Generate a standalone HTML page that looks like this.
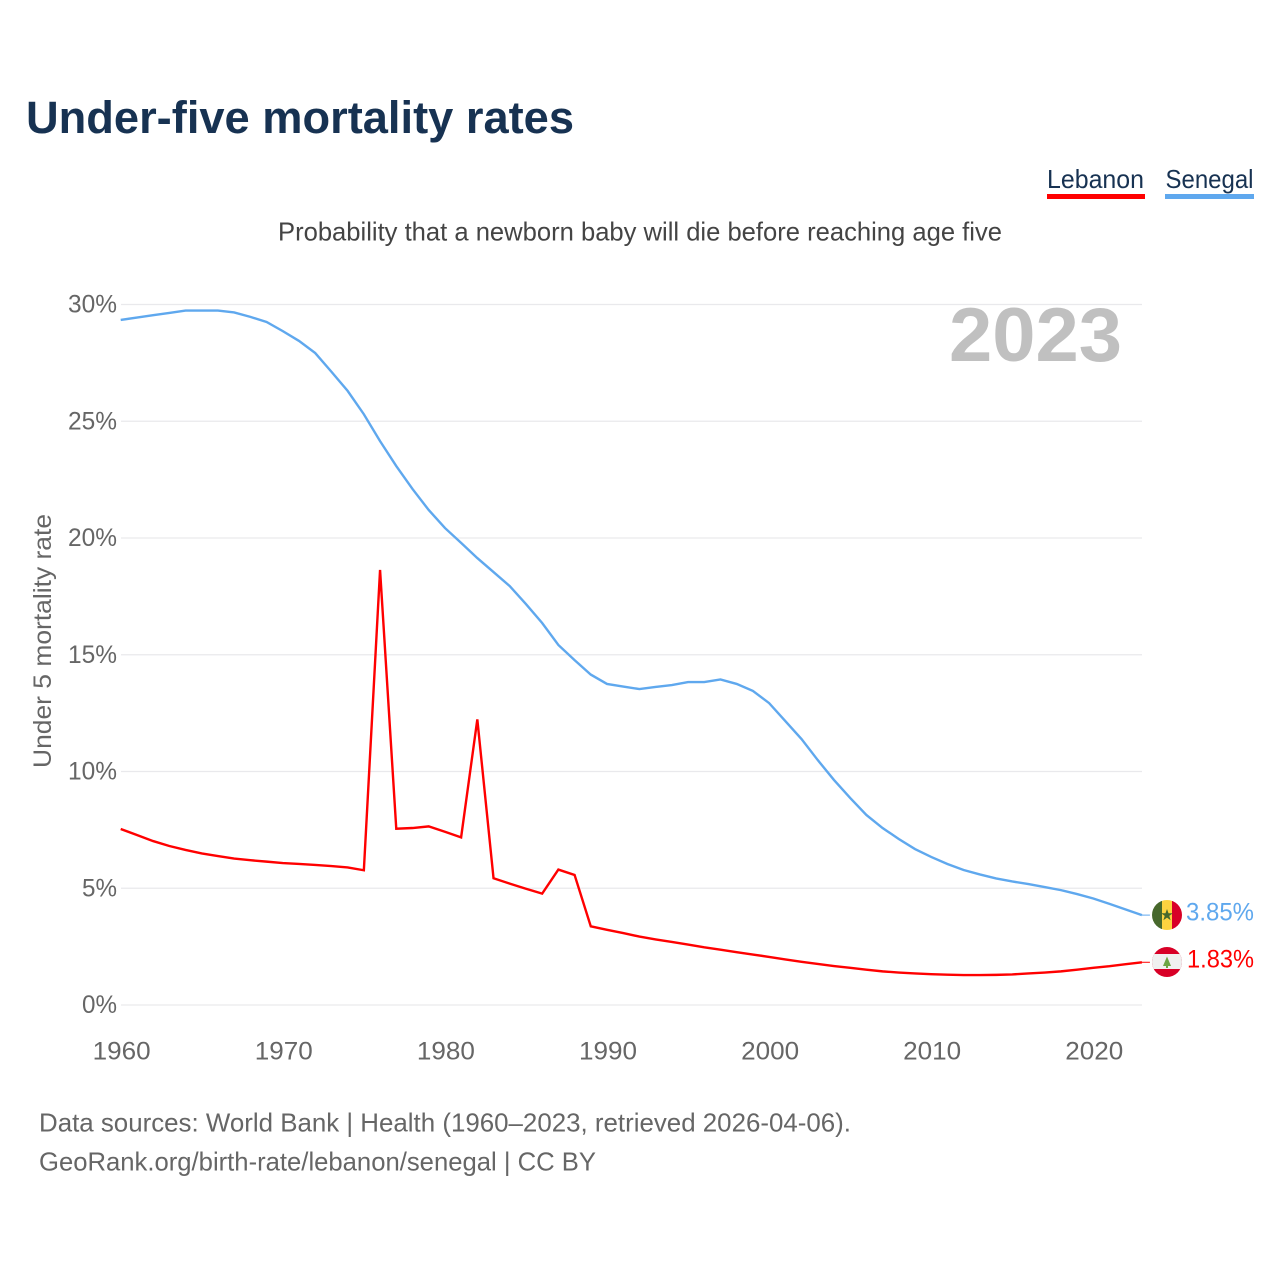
<!DOCTYPE html>
<html lang="en">
<head>
<meta charset="utf-8">
<title>Under-five mortality rates</title>
<style>
html,body{margin:0;padding:0;background:#fff;width:1280px;height:1280px;overflow:hidden}
svg{display:block}
text{font-family:"Liberation Sans",sans-serif}
</style>
</head>
<body>
<svg id="chart" width="1280" height="1280" viewBox="0 0 1280 1280" xmlns="http://www.w3.org/2000/svg">
  <text x="26" y="133" font-size="45" font-weight="700" fill="#173252" textLength="548" lengthAdjust="spacingAndGlyphs">Under-five mortality rates</text>

  <g>
    <text x="1047" y="188" font-size="26" fill="#173252" textLength="97" lengthAdjust="spacingAndGlyphs">Lebanon</text>
    <rect x="1047" y="194" width="98" height="5" fill="#ff0000"/>
  </g>
  <g>
    <text x="1165.500" y="188" font-size="26" fill="#173252" textLength="88" lengthAdjust="spacingAndGlyphs">Senegal</text>
    <rect x="1165" y="194" width="89" height="5" fill="#5fa8ee"/>
  </g>

  <text x="278" y="240.500" font-size="26" fill="#444444" textLength="724" lengthAdjust="spacingAndGlyphs">Probability that a newborn baby will die before reaching age five</text>

  <g id="grid"></g>
  <g id="yticks"></g>
  <g id="xticks"></g>

  <text transform="translate(51,641) rotate(-90)" text-anchor="middle" font-size="25" fill="#666666" textLength="254" lengthAdjust="spacingAndGlyphs">Under 5 mortality rate</text>

  <text x="949" y="361" font-size="76" font-weight="700" fill="#c0c0c0" textLength="173" lengthAdjust="spacingAndGlyphs">2023</text>

  <g id="series"></g>

  <g>
    <clipPath id="clipSn"><circle cx="1167" cy="915" r="15"/></clipPath>
    <g clip-path="url(#clipSn)">
      <rect x="1152" y="900" width="10" height="30" fill="#47682c"/>
      <rect x="1162" y="900" width="10" height="30" fill="#fdd340"/>
      <rect x="1172" y="900" width="10" height="30" fill="#d80027"/>
      <polygon points="1167,909 1168.500,913.200 1172.800,913.200 1169.300,915.900 1170.600,920.200 1167,917.600 1163.400,920.200 1164.700,915.900 1161.200,913.200 1165.500,913.200" fill="#47682c"/>
    </g>
  </g>
  <g>
    <clipPath id="clipLb"><circle cx="1167" cy="962" r="15"/></clipPath>
    <g clip-path="url(#clipLb)">
      <rect x="1152" y="947" width="30" height="30" fill="#d80027"/>
      <rect x="1152" y="954" width="30" height="15" fill="#f0f0f0"/>
      <polygon points="1167,956.500 1171,966 1163,966" fill="#6da544"/>
      <rect x="1166" y="965" width="2" height="3" fill="#6da544"/>
    </g>
  </g>

  <text id="value-senegal" x="1186" y="920.500" font-size="25" fill="#5fa8ee" textLength="68" lengthAdjust="spacingAndGlyphs">3.85%</text>
  <text id="value-lebanon" x="1187" y="967.500" font-size="25" fill="#ff0000" textLength="67" lengthAdjust="spacingAndGlyphs">1.83%</text>

  <text x="39" y="1131.500" font-size="26" fill="#666666" textLength="812" lengthAdjust="spacingAndGlyphs">Data sources: World Bank | Health (1960–2023, retrieved 2026-04-06).</text>
  <text x="39" y="1170.500" font-size="26" fill="#666666" textLength="557" lengthAdjust="spacingAndGlyphs">GeoRank.org/birth-rate/lebanon/senegal | CC BY</text>
</svg>
<script>
const years = [1960,1961,1962,1963,1964,1965,1966,1967,1968,1969,1970,1971,1972,1973,1974,1975,1976,1977,1978,1979,1980,1981,1982,1983,1984,1985,1986,1987,1988,1989,1990,1991,1992,1993,1994,1995,1996,1997,1998,1999,2000,2001,2002,2003,2004,2005,2006,2007,2008,2009,2010,2011,2012,2013,2014,2015,2016,2017,2018,2019,2020,2021,2022,2023];
const lebanonValues = [7.54,7.28,7.02,6.81,6.64,6.49,6.38,6.27,6.20,6.14,6.08,6.04,6.00,5.95,5.89,5.77,18.63,7.55,7.58,7.65,7.42,7.18,12.23,5.43,5.20,4.98,4.77,5.80,5.57,3.37,3.22,3.08,2.93,2.81,2.70,2.59,2.47,2.37,2.26,2.16,2.06,1.95,1.85,1.76,1.67,1.59,1.51,1.44,1.39,1.35,1.32,1.30,1.28,1.28,1.29,1.31,1.35,1.39,1.44,1.51,1.59,1.66,1.75,1.83];
const senegalValues = [29.34,29.44,29.54,29.64,29.74,29.74,29.74,29.66,29.47,29.25,28.86,28.44,27.92,27.12,26.30,25.30,24.15,23.08,22.10,21.20,20.43,19.79,19.14,18.54,17.94,17.17,16.36,15.42,14.77,14.15,13.75,13.64,13.53,13.62,13.70,13.83,13.83,13.94,13.75,13.45,12.93,12.16,11.39,10.49,9.64,8.87,8.14,7.58,7.11,6.68,6.34,6.04,5.78,5.59,5.42,5.29,5.18,5.05,4.92,4.75,4.56,4.33,4.09,3.85];
const yTickValues = [0,5,10,15,20,25,30];
const yTickLabels = ["0%","5%","10%","15%","20%","25%","30%"];
const xTickValues = [1960,1970,1980,1990,2000,2010,2020];
const xTickLabels = ["1960","1970","1980","1990","2000","2010","2020"];

const NS = "http://www.w3.org/2000/svg";
function xScale(year){ return 120.7 + (year - 1960) * 16.21; }
function yScale(v){ return 1005 - v * 23.35; }

const gridG = document.getElementById("grid");
const yG = document.getElementById("yticks");
const xG = document.getElementById("xticks");
const seriesG = document.getElementById("series");

yTickValues.forEach(function(v, i){
  const line = document.createElementNS(NS, "line");
  
  
  line.setAttribute("x1", 121);
  line.setAttribute("x2", 1142);
  line.setAttribute("y1", yScale(v));
  line.setAttribute("y2", yScale(v));
  line.setAttribute("stroke", "#e9e9ec");
  line.setAttribute("stroke-width", "1.300");
  gridG.appendChild(line);

  const t = document.createElementNS(NS, "text");
  
  
  t.setAttribute("x", 117);
  t.setAttribute("y", yScale(v) + 8);
  t.setAttribute("text-anchor", "end");
  t.setAttribute("font-size", "25");
  t.setAttribute("fill", "#666666");
  t.setAttribute("textLength", yTickLabels[i].length === 2 ? 35 : 49);
  t.setAttribute("lengthAdjust", "spacingAndGlyphs");
  t.textContent = yTickLabels[i];
  yG.appendChild(t);
});

xTickValues.forEach(function(v, i){
  const t = document.createElementNS(NS, "text");
  
  
  t.setAttribute("x", xScale(v) + 1);
  t.setAttribute("y", 1059.5);
  t.setAttribute("text-anchor", "middle");
  t.setAttribute("font-size", "25");
  t.setAttribute("fill", "#666666");
  t.setAttribute("textLength", 58);
  t.setAttribute("lengthAdjust", "spacingAndGlyphs");
  t.textContent = xTickLabels[i];
  xG.appendChild(t);
});

function pathFrom(values){
  return values.map(function(v, i){
    return (i ? "L" : "M") + xScale(years[i]).toFixed(2) + " " + yScale(v).toFixed(2);
  }).join(" ");
}

const senegalLine = document.createElementNS(NS, "path");


senegalLine.setAttribute("d", pathFrom(senegalValues));
senegalLine.setAttribute("fill", "none");
senegalLine.setAttribute("stroke", "#5fa8ee");
senegalLine.setAttribute("stroke-width", "2.400");
senegalLine.setAttribute("stroke-linejoin", "miter");
seriesG.appendChild(senegalLine);

const lebanonLine = document.createElementNS(NS, "path");


lebanonLine.setAttribute("d", pathFrom(lebanonValues));
lebanonLine.setAttribute("fill", "none");
lebanonLine.setAttribute("stroke", "#ff0000");
lebanonLine.setAttribute("stroke-width", "2.400");
lebanonLine.setAttribute("stroke-linejoin", "miter");
seriesG.appendChild(lebanonLine);

const lastYearX = xScale(years[years.length - 1]);

const senegalLeader = document.createElementNS(NS, "line");


senegalLeader.setAttribute("x1", lastYearX);
senegalLeader.setAttribute("x2", lastYearX + 8);
senegalLeader.setAttribute("y1", yScale(senegalValues[senegalValues.length - 1]));
senegalLeader.setAttribute("y2", yScale(senegalValues[senegalValues.length - 1]));
senegalLeader.setAttribute("stroke", "#5fa8ee");
senegalLeader.setAttribute("stroke-width", "1");
seriesG.appendChild(senegalLeader);

const lebanonLeader = document.createElementNS(NS, "line");


lebanonLeader.setAttribute("x1", lastYearX);
lebanonLeader.setAttribute("x2", lastYearX + 8);
lebanonLeader.setAttribute("y1", yScale(lebanonValues[lebanonValues.length - 1]));
lebanonLeader.setAttribute("y2", yScale(lebanonValues[lebanonValues.length - 1]));
lebanonLeader.setAttribute("stroke", "#ff0000");
lebanonLeader.setAttribute("stroke-width", "1");
seriesG.appendChild(lebanonLeader);
</script>
</body>
</html>
